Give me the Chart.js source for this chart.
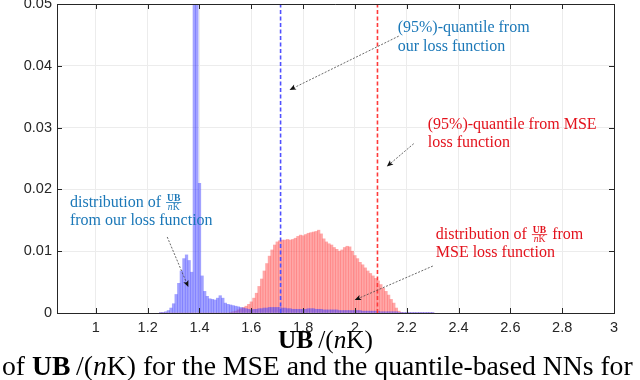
<!DOCTYPE html>
<html>
<head>
<meta charset="utf-8">
<script src="https://cdn.jsdelivr.net/npm/chart.js@4.4.0/dist/chart.umd.min.js"></script>
<style>
  html, body { margin: 0; padding: 0; background: #fff; }
</style>
</head>
<body>
<canvas id="chart" width="640" height="380"></canvas>
<script>
/* bin centres of the histograms (UB/(nK)) */
const binCenters = [
  1.25, 1.26, 1.27, 1.28, 1.29,
  1.30, 1.31, 1.32, 1.33, 1.34, 1.35, 1.36, 1.37, 1.38, 1.39,
  1.40, 1.41, 1.42, 1.43, 1.44, 1.45, 1.46, 1.47, 1.48, 1.49,
  1.50, 1.51, 1.52, 1.53, 1.54, 1.55, 1.56, 1.57, 1.58, 1.59,
  1.60, 1.61, 1.62, 1.63, 1.64, 1.65, 1.66, 1.67, 1.68, 1.69,
  1.70, 1.71, 1.72, 1.73, 1.74, 1.75, 1.76, 1.77, 1.78, 1.79,
  1.80, 1.81, 1.82, 1.83, 1.84, 1.85, 1.86, 1.87, 1.88, 1.89,
  1.90, 1.91, 1.92, 1.93, 1.94, 1.95, 1.96, 1.97, 1.98, 1.99,
  2.00, 2.01, 2.02, 2.03, 2.04, 2.05, 2.06, 2.07, 2.08, 2.09,
  2.10, 2.11, 2.12, 2.13, 2.14, 2.15, 2.16, 2.17, 2.18, 2.19,
  2.20, 2.21, 2.22, 2.23, 2.24, 2.25, 2.26, 2.27, 2.28, 2.29, 2.30
];

/* distribution from our (quantile) loss function */
const oursValues = [
  0.0001, 0.0001, 0.0002, 0.0004, 0.0008,
  0.0015, 0.0030, 0.0048, 0.0068, 0.0088, 0.0094, 0.0085, 0.0066, 0.0600, 0.0600,
  0.0210, 0.0060, 0.0035, 0.0027, 0.0023, 0.0022, 0.0021, 0.0024, 0.0028, 0.0024,
  0.0016, 0.0014, 0.0013, 0.0012, 0.0011, 0.0010, 0.0009, 0.0008, 0.0007, 0.0006,
  0.0005, 0.0006, 0.0006, 0.0007, 0.0007, 0.0008, 0.0008, 0.0009, 0.0009, 0.0009,
  0.0009, 0.0009, 0.0008, 0.0008, 0.0007, 0.0007, 0.0006, 0.0006, 0.0006, 0.0006,
  0.0006, 0.0006, 0.0007, 0.0007, 0.0007, 0.0006, 0.0006, 0.0006, 0.0005, 0.0005,
  0.0005, 0.0005, 0.0005, 0.0005, 0.0004, 0.0004, 0.0004, 0.0004, 0.0004, 0.0004,
  0.0004, 0.0004, 0.0004, 0.0003, 0.0003, 0.0003, 0.0003, 0.0003, 0.0003, 0.0003,
  0.0002, 0.0002, 0.0002, 0.0002, 0.0002, 0.0002, 0.0002, 0.0001, 0.0001, 0.0001,
  0.0001, 0.0001, 0.0001, 0.0001, 0.0001, 0.0001, 0.0001, 0.0001, 0.0001, 0.0001, 0.0001
];

/* distribution from the MSE loss function */
const mseValues = [
  0, 0, 0, 0, 0,
  0, 0, 0, 0, 0, 0, 0, 0, 0, 0,
  0, 0, 0, 0, 0, 0, 0, 0, 0, 0,
  0, 0, 0.0001, 0.0002, 0.0003, 0.0005, 0.0007, 0.0009, 0.0011, 0.0014,
  0.0018, 0.0024, 0.0032, 0.0043, 0.0055, 0.0068, 0.0080, 0.0092, 0.0102, 0.0110,
  0.0115, 0.0117, 0.0118, 0.0118, 0.0119, 0.0118, 0.0119, 0.0121, 0.0124, 0.0126,
  0.0125, 0.0127, 0.0129, 0.0130, 0.0131, 0.0132, 0.0134, 0.0128, 0.0120, 0.0115,
  0.0112, 0.0110, 0.0106, 0.0103, 0.0100, 0.0102, 0.0106, 0.0108, 0.0107, 0.0100,
  0.0093, 0.0088, 0.0082, 0.0078, 0.0073, 0.0068, 0.0064, 0.0060, 0.0056, 0.0052,
  0.0046, 0.0040, 0.0035, 0.0029, 0.0022, 0.0016, 0.0008, 0.0003, 0.0001, 0,
  0, 0, 0, 0, 0, 0, 0, 0, 0, 0, 0
];

/* (95%)-quantiles */
const quantileOurs = 1.713;
const quantileMse = 2.087;

/* axes */
const xTicks = [1, 1.2, 1.4, 1.6, 1.8, 2, 2.2, 2.4, 2.6, 2.8, 3];
const yTicks = [0, 0.01, 0.02, 0.03, 0.04, 0.05];

const SERIF = '"Liberation Serif", "Times New Roman", serif';
const BLUE_TXT = '#1b78b8';
const RED_TXT = '#e3121c';
const AXIS = '#262626';

/* Beschriftungen (in Datenkoordinaten) */
const notes = [
  { x: 2.165, y: 0.0455, color: BLUE_TXT, parts: [{ t: '(95%)-quantile from' }] },
  { x: 2.165, y: 0.0424, color: BLUE_TXT, parts: [{ t: 'our loss function' }] },
  { x: 2.281, y: 0.0297, color: RED_TXT, parts: [{ t: '(95%)-quantile from MSE' }] },
  { x: 2.281, y: 0.0268, color: RED_TXT, parts: [{ t: 'loss function' }] },
  { x: 0.900, y: 0.0171, color: BLUE_TXT, parts: [{ t: 'distribution of ' }, { frac: true }] },
  { x: 0.900, y: 0.0143, color: BLUE_TXT, parts: [{ t: 'from our loss function' }] },
  { x: 2.312, y: 0.0119, color: RED_TXT, parts: [{ t: 'distribution of ' }, { frac: true }, { t: ' from' }] },
  { x: 2.312, y: 0.0091, color: RED_TXT, parts: [{ t: 'MSE loss function' }] }
];

const arrows = [
  { from: [2.169, 0.0448], to: [1.7475, 0.0361] },
  { from: [2.227, 0.0274], to: [2.123, 0.0237] },
  { from: [1.2755, 0.0123], to: [1.357, 0.0042] },
  { from: [2.3007, 0.0076], to: [1.999, 0.0021] }
];

function fracWidth(ctx, size) {
  const s = size * 0.6;
  ctx.font = 'bold ' + s + 'px ' + SERIF;
  const wn = ctx.measureText('UB').width;
  ctx.font = 'italic ' + s + 'px ' + SERIF;
  let wd = ctx.measureText('n').width;
  ctx.font = s + 'px ' + SERIF;
  wd += ctx.measureText('K').width;
  return Math.max(wn, wd) + 4;
}

function drawFrac(ctx, x, y, size) {
  const s = size * 0.6;
  const w = fracWidth(ctx, size);
  const barY = y - size * 0.3;
  ctx.font = 'bold ' + s + 'px ' + SERIF;
  const wn = ctx.measureText('UB').width;
  ctx.fillText('UB', x + (w - wn) / 2, barY - 1.5);
  ctx.font = 'italic ' + s + 'px ' + SERIF;
  const wnn = ctx.measureText('n').width;
  ctx.font = s + 'px ' + SERIF;
  const wk = ctx.measureText('K').width;
  const dx = x + (w - wnn - wk) / 2;
  const denY = barY + 1.5 + s * 0.66;
  ctx.font = 'italic ' + s + 'px ' + SERIF;
  ctx.fillText('n', dx, denY);
  ctx.font = s + 'px ' + SERIF;
  ctx.fillText('K', dx + wnn, denY);
  ctx.fillRect(x + 1, barY - 0.4, w - 2, 0.8);
  return w;
}

function richWidth(ctx, parts, size) {
  let w = 0;
  parts.forEach(p => {
    if (p.frac) { w += fracWidth(ctx, size); return; }
    ctx.font = (p.s || '') + ' ' + size + 'px ' + SERIF;
    w += ctx.measureText(p.t).width;
  });
  return w;
}

function drawRich(ctx, parts, x, y, size) {
  let cx = x;
  parts.forEach(p => {
    if (p.frac) { cx += drawFrac(ctx, cx, y, size); return; }
    ctx.font = (p.s || '') + ' ' + size + 'px ' + SERIF;
    ctx.fillText(p.t, cx, y);
    cx += ctx.measureText(p.t).width;
  });
}

const axisTitle = [{ t: 'UB', s: 'bold' }, { t: '\u2009/(' }, { t: 'n', s: 'italic' }, { t: 'K)' }];
const caption = [{ t: 'of ' }, { t: 'UB', s: 'bold' }, { t: '\u2009/(' }, { t: 'n', s: 'italic' },
                 { t: 'K) for the MSE and the quantile-based NNs for' }];

/* Rahmen, Ticks nach innen, Pfeile und Texte */
const notesPlugin = {
  id: 'notes',
  afterDatasetsDraw(chart) {
    const ctx = chart.ctx;
    const xs = chart.scales.x, ys = chart.scales.y;
    const a = chart.chartArea;
    ctx.save();

    /* Rahmen oben und rechts */
    ctx.strokeStyle = AXIS;
    ctx.lineWidth = 1;
    ctx.beginPath();
    ctx.moveTo(a.left, a.top + 0.5); ctx.lineTo(a.right + 0.5, a.top + 0.5);
    ctx.lineTo(a.right + 0.5, a.bottom);
    ctx.stroke();

    /* Ticks nach innen */
    ctx.beginPath();
    xTicks.forEach(v => {
      const px = Math.round(xs.getPixelForValue(v)) + 0.5;
      ctx.moveTo(px, a.bottom); ctx.lineTo(px, a.bottom - 5);
      ctx.moveTo(px, a.top); ctx.lineTo(px, a.top + 5);
    });
    yTicks.forEach(v => {
      const py = Math.round(ys.getPixelForValue(v)) + 0.5;
      ctx.moveTo(a.left, py); ctx.lineTo(a.left + 5, py);
      ctx.moveTo(a.right, py); ctx.lineTo(a.right - 5, py);
    });
    ctx.stroke();

    /* Pfeile */
    arrows.forEach(ar => {
      const x1 = xs.getPixelForValue(ar.from[0]), y1 = ys.getPixelForValue(ar.from[1]);
      const x2 = xs.getPixelForValue(ar.to[0]), y2 = ys.getPixelForValue(ar.to[1]);
      const ang = Math.atan2(y2 - y1, x2 - x1);
      ctx.strokeStyle = '#444';
      ctx.lineWidth = 0.8;
      ctx.setLineDash([2, 1.5]);
      ctx.beginPath();
      ctx.moveTo(x1, y1); ctx.lineTo(x2 - 4 * Math.cos(ang), y2 - 4 * Math.sin(ang));
      ctx.stroke();
      ctx.setLineDash([]);
      ctx.fillStyle = '#111';
      ctx.beginPath();
      ctx.moveTo(x2, y2);
      ctx.lineTo(x2 - 7 * Math.cos(ang - 0.4), y2 - 7 * Math.sin(ang - 0.4));
      ctx.lineTo(x2 - 5 * Math.cos(ang), y2 - 5 * Math.sin(ang));
      ctx.lineTo(x2 - 7 * Math.cos(ang + 0.4), y2 - 7 * Math.sin(ang + 0.4));
      ctx.closePath();
      ctx.fill();
    });

    /* Texte */
    ctx.textBaseline = 'alphabetic';
    ctx.textAlign = 'left';
    notes.forEach(n => {
      ctx.fillStyle = n.color;
      drawRich(ctx, n.parts, xs.getPixelForValue(n.x), ys.getPixelForValue(n.y), 16);
    });

    /* Achsentitel und Bildunterschrift */
    ctx.fillStyle = '#000';
    let size = 20 * 95 / richWidth(ctx, axisTitle, 20);
    const cx = (a.left + a.right) / 2 - 10;
    drawRich(ctx, axisTitle, cx - richWidth(ctx, axisTitle, size) / 2, 348, size);
    size = 26 * 631 / richWidth(ctx, caption, 26);
    drawRich(ctx, caption, 2, 375, size);

    ctx.restore();
  }
};

const tickFont = { family: '"Liberation Sans", Arial, sans-serif', size: 14.5 };

new Chart(document.getElementById('chart'), {
  type: 'bar',
  data: {
    datasets: [
      {
        type: 'line',
        data: [{ x: quantileOurs, y: 0 }, { x: quantileOurs, y: 0.05 }],
        borderColor: '#5050ff',
        borderWidth: 1.6,
        borderDash: [4, 2.5],
        pointRadius: 0,
        order: 0
      },
      {
        type: 'line',
        data: [{ x: quantileMse, y: 0 }, { x: quantileMse, y: 0.05 }],
        borderColor: '#ff3a3a',
        borderWidth: 1.6,
        borderDash: [4, 2.5],
        pointRadius: 0,
        order: 0
      },
      {
        label: 'ours',
        data: binCenters.map((x, i) => ({ x: x, y: oursValues[i] })),
        backgroundColor: 'rgba(70, 70, 255, 0.5)',
        borderWidth: 0,
        barPercentage: 1,
        categoryPercentage: 1,
        grouped: false,
        order: 1
      },
      {
        label: 'mse',
        data: binCenters.map((x, i) => ({ x: x, y: mseValues[i] })),
        backgroundColor: 'rgba(255, 80, 80, 0.5)',
        borderWidth: 0,
        barPercentage: 1,
        categoryPercentage: 1,
        grouped: false,
        order: 2
      }
    ]
  },
  options: {
    responsive: false,
    animation: false,
    layout: { padding: { left: 0, right: 26, top: 4, bottom: 0 } },
    plugins: { legend: { display: false }, tooltip: { enabled: false } },
    scales: {
      x: {
        type: 'linear',
        min: 0.85,
        max: 3,
        offset: false,
        afterBuildTicks: s => { s.ticks = xTicks.map(v => ({ value: v })); },
        afterFit: s => { s.height = 67; s.paddingLeft = 0; s.paddingRight = 0; },
        ticks: { font: tickFont, color: AXIS, padding: 6, maxRotation: 0, autoSkip: false,
                 callback: v => String(v) },
        grid: { color: '#ececec', drawTicks: false, offset: false },
        border: { color: AXIS, width: 1 }
      },
      y: {
        min: 0,
        max: 0.05,
        afterBuildTicks: s => { s.ticks = yTicks.map(v => ({ value: v })); },
        afterFit: s => { s.width = 57; s.paddingTop = 0; s.paddingBottom = 0; },
        ticks: { font: tickFont, color: AXIS, padding: 5,
                 callback: v => (v === 0 ? '0' : v.toFixed(2)) },
        grid: { color: '#ececec', drawTicks: false },
        border: { color: AXIS, width: 1 }
      }
    }
  },
  plugins: [notesPlugin]
});
</script>
</body>
</html>
